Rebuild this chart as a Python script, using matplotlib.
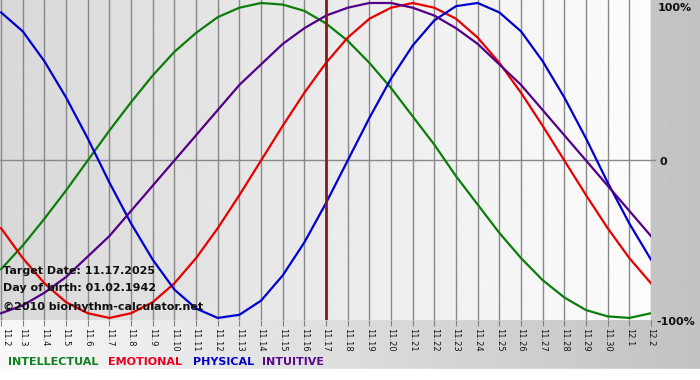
import matplotlib
matplotlib.use('Agg')
import matplotlib.pyplot as plt
import numpy as np

days = ['11.2', '11.3', '11.4', '11.5', '11.6', '11.7', '11.8', '11.9', '11.10', '11.11',
        '11.12', '11.13', '11.14', '11.15', '11.16', '11.17', '11.18', '11.19', '11.20', '11.21',
        '11.22', '11.23', '11.24', '11.25', '11.26', '11.27', '11.28', '11.29', '11.30', '12.1', '12.2']
target_day = '11.17'

intellectual = [-0.69, -0.54, -0.37, -0.19, 0.00, 0.19, 0.37, 0.54, 0.69, 0.81,
                0.91, 0.97, 1.00, 0.99, 0.95, 0.87, 0.76, 0.62, 0.46, 0.28,
                0.10, -0.10, -0.28, -0.46, -0.62, -0.76, -0.87, -0.95, -0.99, -1.00, -0.97]
emotional = [-0.43, -0.62, -0.78, -0.90, -0.97, -1.00, -0.97, -0.90, -0.78, -0.62,
             -0.43, -0.22, 0.00, 0.22, 0.43, 0.62, 0.78, 0.90, 0.97, 1.00,
             0.97, 0.90, 0.78, 0.62, 0.43, 0.22, 0.00, -0.22, -0.43, -0.62, -0.78]
physical = [0.94, 0.82, 0.63, 0.40, 0.14, -0.14, -0.40, -0.63, -0.82, -0.94,
            -1.00, -0.98, -0.89, -0.73, -0.52, -0.27, 0.00, 0.27, 0.52, 0.73,
            0.89, 0.98, 1.00, 0.94, 0.82, 0.63, 0.40, 0.14, -0.14, -0.40, -0.63]
intuitive = [-0.97, -0.92, -0.84, -0.74, -0.61, -0.48, -0.32, -0.16, 0.00, 0.16,
             0.32, 0.48, 0.61, 0.74, 0.84, 0.92, 0.97, 1.00, 1.00, 0.97,
             0.92, 0.84, 0.74, 0.61, 0.48, 0.32, 0.16, 0.00, -0.16, -0.32, -0.48]

series_names = ['INTELLECTUAL', 'EMOTIONAL', 'PHYSICAL', 'INTUITIVE']
line_colors = ['#0a7d0a', '#e80000', '#0000d0', '#520088']
text_colors = ['#0f7f1f', '#e8001c', '#0000cc', '#5a0a8a']

W, H = 700, 380
fig = plt.figure(figsize=(W / 100, H / 100), dpi=100)

# figure background gradient
bg = fig.add_axes([0, 0, 1, 1], zorder=-10)
bg.axis('off')
bg.set_xlim(0, W)
bg.set_ylim(H, 0)
bg.imshow(np.linspace(0.97, 0.76, 256)[None, :], cmap='gray', vmin=0, vmax=1,
          extent=[0, W, 369, 0], aspect='auto')
bg.add_patch(plt.Rectangle((0, 369), W, 11, color='white'))

ax = fig.add_axes([0, (H - 320) / H, 651 / W, 320 / H])
x = np.arange(len(days))
ax.set_xlim(-0.05, len(days) - 1)
ax.set_ylim(-1.013, 1.019)
ax.imshow(np.linspace(0.85, 0.99, 256)[None, :], cmap='gray', vmin=0, vmax=1,
          extent=[-0.05, len(days) - 1, -1.013, 1.019], aspect='auto', zorder=0)
for s in ax.spines.values():
    s.set_visible(False)

ax.set_xticks(x)
ax.set_xticklabels(days, rotation=270, fontsize=6, color='#151515')
ax.get_xticklabels()[0].set_horizontalalignment('left')
ax.tick_params(axis='x', length=4, color='#808080', pad=2)
ax.set_yticks([])
ax.grid(axis='x', color='#888888', lw=1, zorder=1)
ax.plot([-0.05, len(days) - 1 + 0.2], [0, 0], color='#888888', lw=1, clip_on=False, zorder=1)

for vals, c in zip([intellectual, emotional, physical, intuitive], line_colors):
    ax.plot(x, vals, color=c, lw=1.6, zorder=3, solid_joinstyle='round')

ax.axvline(days.index(target_day), color='#8b1a1a', lw=2, zorder=4)

# right percentage labels
for lab, yp, xp in [('100%', 8, 658), ('0', 162, 659), ('-100%', 322, 656)]:
    fig.text(xp / W, 1 - yp / H, lab, fontsize=8, fontweight='bold', color='#101010',
             va='center', ha='left')

# info texts
for lab, yp in [('Target Date: 11.17.2025', 271), ('Day of birth: 01.02.1942', 288),
                ('\u00a92010 biorhythm-calculator.net', 307)]:
    fig.text(3 / W, 1 - yp / H, lab, fontsize=8, fontweight='bold', color='#101010',
             va='center', ha='left', zorder=10)

# legend row
for name, c, xp in zip(series_names, text_colors, [8, 108, 193, 262]):
    fig.text(xp / W, 1 - 362 / H, name, fontsize=8, fontweight='bold', color=c,
             va='center', ha='left')

fig.savefig('out.png', dpi=100)
